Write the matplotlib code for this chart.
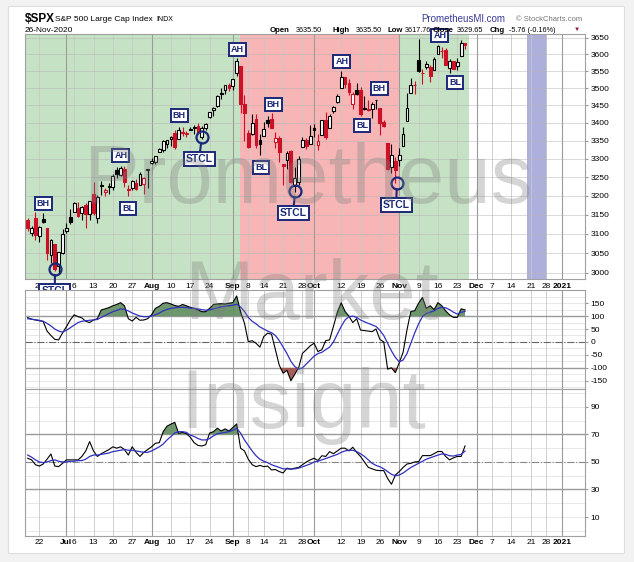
import matplotlib.pyplot as plt
import numpy as np
from matplotlib.patches import Rectangle
from matplotlib.ticker import NullLocator

plt.rcParams['font.family'] = ['Liberation Sans', 'DejaVu Sans']
plt.rcParams['axes.unicode_minus'] = False

# daily bars 17-Jun-2020 .. 25-Nov-2020 (index = trading day)
opens = [3136.1, 3101.6, 3140.3, 3094.4, 3138.7, 3114.4, 3046.6, 3073.2, 3018.6, 3050.2,
         3105.9, 3143.6, 3155.3, 3166.4, 3153.1, 3176.2, 3152.5, 3205.1, 3141.1, 3225.9,
         3208.4, 3224.2, 3224.3, 3268.5, 3254.9, 3271.6, 3218.6, 3219.8, 3234.3, 3227.2,
         3231.8, 3270.5, 3288.3, 3289.9, 3317.4, 3323.2, 3340.1, 3356.0, 3370.3, 3355.5,
         3372.9, 3368.7, 3380.9, 3387.0, 3392.5, 3360.5, 3386.0, 3418.1, 3435.9, 3449.9,
         3485.1, 3494.7, 3509.7, 3507.4, 3543.8, 3564.7, 3453.6, 3371.9, 3369.8, 3412.6,
         3352.7, 3363.6, 3407.7, 3411.2, 3346.9, 3357.4, 3285.6, 3295.8, 3320.1, 3226.1,
         3236.7, 3333.9, 3350.9, 3341.2, 3385.9, 3338.9, 3367.3, 3408.7, 3384.6, 3434.3,
         3459.7, 3500.0, 3534.0, 3515.5, 3453.7, 3493.5, 3493.7, 3439.4, 3439.9, 3438.5,
         3464.9, 3441.4, 3403.2, 3342.5, 3277.2, 3293.6, 3296.2, 3336.3, 3406.5, 3485.7,
         3508.3, 3583.0, 3543.3, 3563.2, 3562.7, 3552.6, 3600.2, 3610.3, 3612.1, 3559.4,
         3579.3, 3566.8, 3594.5, 3635.5]
highs = [3141.2, 3120.0, 3155.5, 3120.9, 3154.9, 3115.0, 3086.3, 3073.7, 3053.9, 3111.5,
         3128.4, 3165.8, 3182.6, 3184.2, 3171.8, 3179.8, 3186.8, 3235.3, 3200.9, 3238.3,
         3220.4, 3233.5, 3258.6, 3277.3, 3279.3, 3279.9, 3227.3, 3241.4, 3243.7, 3264.7,
         3250.9, 3272.2, 3302.7, 3306.8, 3330.8, 3351.0, 3352.5, 3363.3, 3381.0, 3387.9,
         3387.2, 3378.5, 3387.6, 3395.1, 3399.5, 3390.8, 3399.9, 3432.1, 3444.2, 3481.1,
         3501.4, 3509.2, 3514.8, 3528.0, 3588.1, 3564.9, 3479.2, 3379.0, 3424.8, 3425.6,
         3368.9, 3402.9, 3419.5, 3428.9, 3375.2, 3362.3, 3285.6, 3320.3, 3323.4, 3278.7,
         3306.9, 3360.7, 3357.9, 3393.6, 3397.2, 3369.1, 3409.6, 3431.6, 3426.3, 3447.3,
         3482.3, 3549.9, 3534.0, 3527.9, 3489.1, 3515.8, 3502.4, 3476.9, 3464.9, 3460.5,
         3466.5, 3441.4, 3409.5, 3342.5, 3341.1, 3304.9, 3330.1, 3389.5, 3486.3, 3529.0,
         3521.6, 3646.0, 3557.2, 3581.2, 3569.0, 3593.7, 3628.5, 3623.1, 3619.1, 3585.2,
         3581.2, 3589.8, 3642.3, 3635.5]
lows = [3108.0, 3093.5, 3083.1, 3079.4, 3127.1, 3032.1, 3024.0, 3004.6, 2999.7, 3047.8,
        3101.5, 3124.5, 3155.3, 3142.9, 3136.5, 3115.7, 3136.2, 3149.4, 3127.7, 3200.8,
        3198.6, 3205.7, 3215.2, 3247.8, 3253.1, 3222.7, 3200.1, 3214.3, 3216.2, 3227.2,
        3204.1, 3220.3, 3284.5, 3286.4, 3317.4, 3318.1, 3328.7, 3335.4, 3326.4, 3355.5,
        3363.4, 3361.6, 3379.2, 3370.2, 3369.7, 3354.7, 3379.3, 3413.1, 3421.0, 3444.2,
        3468.4, 3484.3, 3493.3, 3494.6, 3535.2, 3427.4, 3349.6, 3329.3, 3366.8, 3329.3,
        3310.5, 3363.6, 3389.3, 3384.5, 3328.8, 3292.4, 3229.1, 3270.9, 3232.6, 3209.5,
        3228.4, 3332.9, 3327.5, 3340.5, 3361.4, 3323.7, 3367.3, 3354.5, 3384.6, 3428.2,
        3458.1, 3499.6, 3500.9, 3480.6, 3440.9, 3480.5, 3419.9, 3435.7, 3433.1, 3415.3,
        3440.5, 3364.9, 3388.7, 3268.9, 3259.8, 3233.9, 3279.7, 3336.3, 3405.2, 3485.7,
        3484.3, 3547.1, 3511.9, 3557.0, 3518.6, 3552.6, 3600.2, 3588.7, 3567.3, 3543.8,
        3556.9, 3552.8, 3594.5, 3617.8]
closes = [3113.5, 3115.3, 3097.7, 3117.9, 3131.3, 3050.3, 3083.8, 3009.1, 3053.2, 3100.3,
          3115.9, 3130.0, 3179.7, 3145.3, 3169.9, 3152.1, 3185.0, 3155.2, 3197.5, 3226.6,
          3215.6, 3224.7, 3251.8, 3257.3, 3276.0, 3235.7, 3215.6, 3239.4, 3218.4, 3258.4,
          3246.2, 3271.1, 3294.6, 3306.5, 3327.8, 3349.2, 3351.3, 3360.5, 3333.7, 3380.4,
          3373.4, 3372.9, 3382.0, 3389.8, 3374.9, 3385.5, 3397.2, 3431.3, 3443.6, 3478.7,
          3484.6, 3508.0, 3500.3, 3526.7, 3580.8, 3455.1, 3427.0, 3331.8, 3399.0, 3339.2,
          3341.0, 3383.5, 3401.2, 3385.5, 3357.0, 3319.5, 3281.1, 3315.6, 3236.9, 3246.6,
          3298.5, 3351.6, 3335.5, 3363.0, 3380.8, 3348.4, 3408.6, 3361.0, 3419.4, 3446.8,
          3477.1, 3534.2, 3511.9, 3488.7, 3483.3, 3483.8, 3426.9, 3443.1, 3435.6, 3453.5,
          3465.4, 3401.0, 3390.7, 3271.0, 3310.1, 3270.0, 3310.2, 3369.2, 3443.4, 3510.5,
          3509.4, 3550.5, 3545.5, 3572.7, 3537.0, 3585.2, 3626.9, 3609.5, 3567.8, 3581.9,
          3557.5, 3577.6, 3635.4, 3629.7]
prev_close = 3124.7

cci = [94, 88, 85, 82, 79, 42, 25, 10, 8, 35, 59, 85, 105, 98, 93, 80, 75, 85, 90, 124,
       128, 133, 140, 145, 152, 140, 90, 81, 95, 84, 85, 90, 105, 130, 138, 150, 152, 147, 141, 138,
       145, 140, 134, 130, 124, 117, 117, 130, 145, 147, 148, 147, 150, 152, 178, 117, 73, 1, 5, -5,
       -20, 21, 34, 30, -30, -90, -121, -110, -150, -125, -100, -44, -30, -15, -5, -37, -30, 5, 8, 60,
       115, 152, 118, 100, 75, 90, 46, 44, 42, 40, 50, 10, 0, -105, -100, -119, -80, -40, 47, 118,
       121, 150, 172, 130, 140, 125, 152, 140, 120, 105, 95, 95, 128, 124]
cci_ma = [90, 88, 86, 84, 80, 72, 62, 50, 42, 38, 45, 55, 65, 75, 80, 82, 84, 85, 87, 95,
          102, 110, 117, 122, 128, 126, 120, 112, 106, 100, 98, 98, 100, 105, 112, 120, 126, 130, 132, 134,
          134, 133, 131, 130, 128, 125, 123, 124, 128, 132, 136, 138, 140, 142, 146, 135, 118, 95, 80, 70,
          58, 50, 42, 36, 25, 5, -20, -45, -75, -95, -105, -100, -85, -70, -55, -45, -40, -30, -20, 0,
          30, 60, 85, 98, 100, 95, 85, 78, 72, 66, 60, 45, 25, -5, -35, -60, -77, -70, -45, -5,
          35, 70, 98, 110, 115, 120, 130, 134, 132, 125, 115, 108, 115, 118]
rsi = [52.7, 51.5, 48, 47, 48.5, 52, 55.8, 47, 46.6, 49, 51.5, 51.5, 51.5, 51.5, 54, 58, 64.8, 58, 54, 56,
       57.5, 59, 61, 60, 61, 59, 55, 61, 57, 54, 57, 59, 61, 63.6, 64, 72, 76, 77.5, 78.8, 70.8,
       71.5, 70.5, 68, 64, 62, 61.6, 62.5, 71, 72, 74.5, 72.5, 74, 72.5, 75, 77.6, 60, 58, 52, 48, 46.6,
       47.5, 46.6, 47, 44.2, 44.5, 43, 42, 45.5, 44.8, 45.5, 46, 48, 50, 51.5, 52.7, 51, 54.5, 54, 57.5, 56,
       58, 60, 60, 58, 60.7, 57, 54, 50, 46.1, 45, 44, 43.7, 43.7, 38, 33.8, 40.5, 43, 46, 48.5, 49,
       50, 50.2, 54.6, 54.6, 54.6, 56, 57.6, 57.6, 54, 51.5, 53, 54, 54, 61.6]
rsi_ma = [55, 53.5, 51.5, 50, 49.5, 50, 51, 51.5, 50.5, 50, 50, 50.5, 50.5, 51, 51, 52, 54, 55, 55, 55.5,
          56, 56.5, 57.5, 58, 58.5, 59, 58.5, 58.5, 58, 57.5, 57, 57, 58, 59.5, 61, 63, 66, 68.5, 71, 72,
          72, 71.5, 69.5, 68.5, 67, 66, 66, 67, 69, 70.5, 71, 71.5, 72, 73, 74.5, 71, 66, 62, 58, 54.5,
          52, 50.5, 49.5, 48, 47, 46, 45, 45, 44.8, 45, 45.5, 46.5, 47.5, 48.5, 50, 50.5, 51.5, 52.5, 53.5, 54.5,
          55.5, 57, 58, 58.5, 58.5, 57.5, 56, 54, 51.5, 49, 47.5, 46.5, 45, 43, 41, 40, 40.5, 42, 44, 46,
          47.5, 49, 50.5, 52, 53, 54, 55, 55.8, 55.5, 54.5, 54.3, 55, 55.5, 57.9]

# x axis ticks (trading-day index), month starts in bold
day_idx = [3, 12, 17, 22, 27, 37, 42, 47, 57, 61, 66, 71, 81, 86, 91, 101, 106, 111, 120, 125, 130, 134]
day_lbl = ['22', '6', '13', '20', '27', '10', '17', '24', '8', '14', '21', '28', '12', '19', '26',
           '9', '16', '23', '7', '14', '21', '28']
month_idx = [10, 32, 53, 74, 96, 116, 138]
month_lbl = ['Jul', 'Aug', 'Sep', 'Oct', 'Nov', 'Dec', '2021']

# background phases
phase_start = [-0.7, 54.8, 96.0]
phase_end = [54.8, 96.0, 114.0]
phase_color = ['#c6e2c4', '#f8b5b5', '#c6e2c4']
holiday_band = (129.0, 134.2)

# annotations
ann_text = ['BH', 'AH', 'BL', 'BH', 'AH', 'BH', 'BL', 'AH', 'BH', 'BL', 'AH', 'BL']
ann_idx = [4.0, 24.1, 25.9, 39.1, 54.1, 63.4, 60.3, 81.2, 90.8, 86.4, 106.5, 110.4]
ann_price = [3178, 3308, 3167, 3420, 3614, 3454, 3277, 3578, 3498, 3392, 3656, 3516]
stcl_idx = [7.05, 45.0, 69.1, 95.4]
stcl_price = [3010, 3361, 3213, 3234]
stcl_box_idx = [7.0, 44.3, 68.6, 95.2]
stcl_box_price = [2955, 3300, 3154, 3175]

price_ticks = [3000, 3050, 3100, 3150, 3200, 3250, 3300, 3350, 3400, 3450, 3500, 3550, 3600, 3650]
cci_ticks = [150, 100, 50, 0, -50, -100, -150]
rsi_ticks = [90, 70, 50, 30, 10]

W, H = 634, 562
NAVY = '#1b2878'
RED = '#cc1025'
XLIM = (-0.7, 144.0)


def rect(x0, y0, x1, y1):
    return [x0 / W, 1 - y1 / H, (x1 - x0) / W, (y1 - y0) / H]


def ftext(x, y, s, **kw):
    fig.text(x / W, 1 - y / H, s, va='baseline', **kw)


fig = plt.figure(figsize=(W / 100, H / 100), dpi=100, facecolor='#f2f2f2')
fig.add_artist(Rectangle((8 / W, 1 - 553 / H), 616 / W, 547 / H, transform=fig.transFigure,
                         facecolor='white', edgecolor='#dedede', lw=0.8, zorder=-5))

ax = fig.add_axes(rect(25, 34, 585, 279))
ax_cci = fig.add_axes(rect(25, 290, 585, 389))
ax_rsi = fig.add_axes(rect(25, 389, 585, 536))

for a in (ax, ax_cci, ax_rsi):
    a.set_xlim(*XLIM)
    a.set_facecolor('white')
    for s in a.spines.values():
        s.set_color('#a0a0a0')
        s.set_linewidth(0.8)
    a.yaxis.tick_right()
    a.tick_params(axis='y', labelsize=6, length=2, color='#999999', pad=2)
    a.tick_params(axis='x', length=0)
    a.set_xticks([])
    for d in day_idx:
        a.axvline(d, color='#c8c8c8', lw=0.6, zorder=0.6)
    for m in month_idx:
        a.axvline(m, color='#9a9a9a', lw=0.8, zorder=0.6)

# ---- price panel
for s0, s1, c in zip(phase_start, phase_end, phase_color):
    ax.axvspan(s0, s1, color=c, lw=0, zorder=0.2)
ax.axvspan(*holiday_band, color='#aeb0dc', lw=0, zorder=0.2)

ax.set_yscale('log')
ax.set_ylim(2985, 3662)
ax.set_yticks(price_ticks)
ax.set_yticklabels([str(t) for t in price_ticks])
ax.yaxis.set_minor_locator(NullLocator())
for t in price_ticks:
    ax.axhline(t, color='#b5b5b5', lw=0.5, alpha=0.7, zorder=0.6)

for i in range(len(closes)):
    o, h, l, c = opens[i], highs[i], lows[i], closes[i]
    before = closes[i - 1] if i > 0 else prev_close
    col = 'black' if c >= before else RED
    ax.vlines(i, l, h, color=col, lw=0.8, zorder=3)
    lo, hi = min(o, c), max(o, c)
    if hi - lo < 1.5:
        hi = lo + 1.5
    face = 'white' if c > o else col
    ax.add_patch(Rectangle((i - 0.36, lo), 0.72, hi - lo, facecolor=face, edgecolor=col,
                           lw=0.8, zorder=4))

for t, xi, p in zip(ann_text, ann_idx, ann_price):
    ax.text(xi, p, t, ha='center', va='center', fontsize=6.5, fontweight='bold', color=NAVY,
            zorder=8, clip_on=False,
            bbox=dict(boxstyle='square,pad=0.22', facecolor='white', edgecolor=NAVY, lw=1.4))

for ci, cp, bi, bp in zip(stcl_idx, stcl_price, stcl_box_idx, stcl_box_price):
    ax.plot(ci, cp, 'o', ms=8.6, mfc='none', mec=NAVY, mew=1.6, zorder=8, clip_on=False)
    ax.annotate('STCL', xy=(ci, cp), xytext=(bi, bp), ha='center', va='center', fontsize=7.5,
                fontweight='bold', color=NAVY, zorder=8, annotation_clip=False,
                bbox=dict(boxstyle='square,pad=0.2', facecolor='white', edgecolor=NAVY, lw=1.4),
                arrowprops=dict(arrowstyle='-', color=NAVY, lw=1.5, shrinkA=0, shrinkB=4.3))

# ---- CCI panel
x = np.arange(len(cci))
cci_a = np.array(cci, dtype=float)
ax_cci.set_ylim(-182, 201)
ax_cci.set_yticks(cci_ticks)
ax_cci.set_yticklabels([str(t) for t in cci_ticks])
for t in range(-175, 201, 25):
    ax_cci.axhline(t, color='#dddddd', lw=0.5, zorder=0.5)
ax_cci.axhline(100, color='#999999', lw=1.0, zorder=1)
ax_cci.axhline(-100, color='#999999', lw=1.0, zorder=1)
ax_cci.axhline(0, color='#666666', lw=0.8, ls='-.', zorder=1)
ax_cci.fill_between(x, cci_a, 100, where=cci_a > 100, interpolate=True, color='#5e8c5e',
                    alpha=0.9, lw=0, zorder=2)
ax_cci.fill_between(x, cci_a, -100, where=cci_a < -100, interpolate=True, color='#9c4f4a',
                    alpha=0.9, lw=0, zorder=2)
ax_cci.plot(x, cci, color='black', lw=0.8, zorder=3)
ax_cci.plot(x, cci_ma, color='#3030c0', lw=0.9, zorder=3)

# ---- RSI panel
rsi_a = np.array(rsi, dtype=float)
ax_rsi.set_ylim(-3.8, 103)
ax_rsi.set_yticks(rsi_ticks)
ax_rsi.set_yticklabels([str(t) for t in rsi_ticks])
for t in range(0, 101, 10):
    ax_rsi.axhline(t, color='#dddddd', lw=0.5, zorder=0.5)
ax_rsi.axhline(70, color='#999999', lw=1.0, zorder=1)
ax_rsi.axhline(30, color='#999999', lw=1.0, zorder=1)
ax_rsi.axhline(50, color='#888888', lw=0.8, ls='-.', zorder=1)
ax_rsi.fill_between(x, rsi_a, 70, where=rsi_a > 70, interpolate=True, color='#5e8c5e',
                    alpha=0.9, lw=0, zorder=2)
ax_rsi.plot(x, rsi, color='black', lw=0.8, zorder=3)
ax_rsi.plot(x, rsi_ma, color='#3030c0', lw=0.9, zorder=3)

# x labels under the price panel and under the RSI panel
for a in (ax, ax_rsi):
    for d, lb in zip(day_idx, day_lbl):
        a.text(d, -0.018, lb, transform=a.get_xaxis_transform(), ha='center', va='top',
               fontsize=6, clip_on=False, zorder=2)
    for m, lb in zip(month_idx, month_lbl):
        a.text(m, -0.018, lb, transform=a.get_xaxis_transform(), ha='center', va='top',
               fontsize=6, fontweight='bold', clip_on=False, zorder=2)

# header
ftext(25, 22, r'\$SPX', fontsize=8.5, fontweight='bold')
ftext(55, 21, 'S&P 500 Large Cap Index', fontsize=6)
ftext(156, 21, 'INDX', fontsize=5)
ftext(25, 32, '26-Nov-2020', fontsize=6)
ftext(421, 22, 'PrometheusMI.com', fontsize=7, color='#3a3a94')
ftext(516, 21, '\u00a9 StockCharts.com', fontsize=5.5, color='#777777')
head = [(270, 'Open', True), (296, '3635.50', False), (333, 'High', True), (356, '3635.50', False),
        (388, 'Low', True), (405, '3617.76', False), (433, 'Close', True), (457, '3629.65', False),
        (490, 'Chg', True), (509, '-5.76 (-0.16%)', False)]
for hx, hs, hb in head:
    if hb:
        ftext(hx, 32, hs, fontsize=5.6, fontweight='bold')
    else:
        ftext(hx, 32, hs, fontsize=5.2)
ftext(574, 31, '\u25bc', fontsize=4.5, color='#a01030')

# watermark
wm = dict(fontsize=60, color='#808080', alpha=0.33, family='Liberation Sans', zorder=10)
ftext(83, 203, 'Prometheus', **wm)
ftext(184, 319, 'Market', **wm)
ftext(180, 428, 'Insight', **wm)

fig.savefig('out.png', dpi=100, facecolor=fig.get_facecolor())
